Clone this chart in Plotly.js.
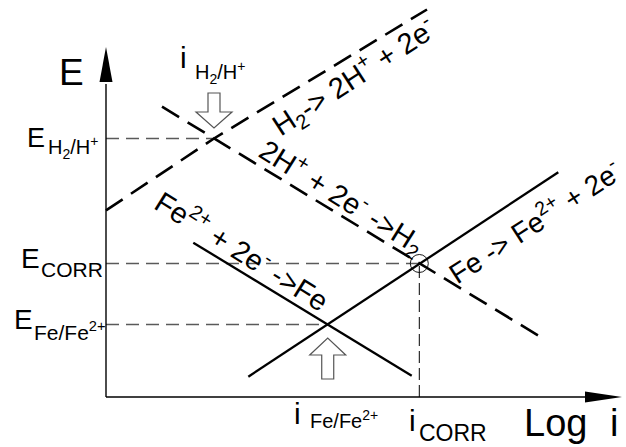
<!DOCTYPE html>
<html>
<head>
<meta charset="utf-8">
<script src="https://cdn.plot.ly/plotly-3.0.1.min.js"></script>
<style>
  html, body { margin: 0; padding: 0; background: #fff; }
  #chart { width: 626px; height: 447px; }
</style>
</head>
<body>
<div id="chart"></div>
<script>
// Evans diagram: Fe corrosion coupled with hydrogen reaction (E vs log i)

// Equilibrium / mixed-potential points: [H2/H+, CORR, Fe/Fe2+]
const pointNames = ['H2/H+', 'CORR', 'Fe/Fe2+'];
const pointLogI  = [2.077, 6.025, 4.264];
const pointE     = [6.511, 3.363, 1.826];

// Hydrogen oxidation branch (H2 -> 2H+ + 2e-)
const h2OxLogI = [0.0, 2.077, 6.173];
const h2OxE    = [4.70, 6.511, 9.761];

// Hydrogen reduction branch (2H+ + 2e- -> H2)
const h2RedLogI = [1.077, 8.398];
const h2RedE    = [7.312, 1.479];

// Iron oxidation branch (Fe -> Fe2+ + 2e-)
const feOxLogI = [2.737, 8.698];
const feOxE    = [0.511, 5.660];

// Iron reduction branch (Fe2+ + 2e- -> Fe)
const feRedLogI = [1.679, 5.879];
const feRedE    = [3.887, 0.537];

// Axis extents (data units)
const axisEndLogI = 9.923;
const axisEndE    = 8.816;

// ---- pixel helpers for the full-frame plot area ----
const W = 626, H = 447;
const ORIGIN_X = 106, ORIGIN_Y = 397, SX = 52, SY = 39.7;
const px2x = p => (p - ORIGIN_X) / SX;
const py2y = p => (ORIGIN_Y - p) / SY;

const FONT = 'Liberation Sans, Arial, sans-serif';

const traces = [];

// reference level guides
const idxH2 = 0, idxCorr = 1, idxFe = 2;
[idxH2, idxCorr, idxFe].forEach(k => {
  traces.push({
    x: [0, pointLogI[k]], y: [pointE[k], pointE[k]],
    mode: 'lines', hoverinfo: 'skip',
    line: { color: '#5a5a5a', width: 1.3, dash: '13px,7px' }
  });
});
traces.push({
  x: [pointLogI[idxCorr], pointLogI[idxCorr]], y: [0, pointE[idxCorr]],
  mode: 'lines', hoverinfo: 'skip',
  line: { color: '#000', width: 1, dash: '12px,5px' }
});

// hydrogen branches (dashed)
traces.push({ x: h2OxLogI, y: h2OxE, mode: 'lines', hoverinfo: 'skip',
  line: { color: '#000', width: 2.6, dash: '20px,10px' } });
traces.push({ x: h2RedLogI, y: h2RedE, mode: 'lines', hoverinfo: 'skip',
  line: { color: '#000', width: 2.6, dash: '20px,10px' } });

// iron branches (solid)
traces.push({ x: feOxLogI, y: feOxE, mode: 'lines', hoverinfo: 'skip',
  line: { color: '#000', width: 2.3 } });
traces.push({ x: feRedLogI, y: feRedE, mode: 'lines', hoverinfo: 'skip',
  line: { color: '#000', width: 2.3 } });

// corrosion point marker
traces.push({ x: [pointLogI[idxCorr]], y: [pointE[idxCorr]], mode: 'markers', hoverinfo: 'skip',
  marker: { symbol: 'circle-open', size: 18, color: '#000', line: { width: 0.9, color: '#000' } } });

// ---- shapes: axes with arrowheads, hollow pointer arrows ----
const shapes = [
  { type: 'line', xref: 'x', yref: 'y', x0: 0, y0: 0, x1: px2x(590), y1: 0,
    line: { color: '#000', width: 1.4 } },
  { type: 'line', xref: 'x', yref: 'y', x0: 0, y0: 0, x1: 0, y1: py2y(84),
    line: { color: '#000', width: 1.4 } },
  { type: 'path', xref: 'x', yref: 'y', xsizemode: 'pixel', ysizemode: 'pixel',
    xanchor: axisEndLogI, yanchor: 0,
    path: 'M 0,0 L -37,5.5 L -37,-5.5 Z', fillcolor: '#000', line: { width: 0 } },
  { type: 'path', xref: 'x', yref: 'y', xsizemode: 'pixel', ysizemode: 'pixel',
    xanchor: 0, yanchor: axisEndE,
    path: 'M 0,0 L -6.5,-35 L 6.5,-35 Z', fillcolor: '#000', line: { width: 0 } },
  // hollow arrow pointing down at the H2/H+ exchange point
  { type: 'path', xref: 'x', yref: 'y', xsizemode: 'pixel', ysizemode: 'pixel',
    xanchor: pointLogI[idxH2], yanchor: pointE[idxH2],
    path: 'M -6,45.5 L 6,45.5 L 6,26.5 L 18,26.5 L 0,10.5 L -18,26.5 L -6,26.5 Z',
    fillcolor: '#fff', line: { color: '#555', width: 1.2 } },
  // hollow arrow pointing up at the Fe/Fe2+ exchange point
  { type: 'path', xref: 'x', yref: 'y', xsizemode: 'pixel', ysizemode: 'pixel',
    xanchor: pointLogI[idxFe], yanchor: pointE[idxFe],
    path: 'M -6,-54.5 L 6,-54.5 L 6,-30.5 L 18,-30.5 L 0,-13.5 L -18,-30.5 L -6,-30.5 Z',
    fillcolor: '#fff', line: { color: '#555', width: 1.2 } }
];

// ---- text ----
function txt(text, x, y, size, opts) {
  return Object.assign({
    text: text, x: x, y: y, xref: 'x', yref: 'y', showarrow: false,
    xanchor: 'center', yanchor: 'middle',
    font: { family: FONT, size: size, color: '#000' }
  }, opts || {});
}

const annotations = [
  // axis titles
  txt('E', px2x(71), py2y(72), 37),
  txt('Log', px2x(522), py2y(423), 38, { xanchor: 'left' }),
  txt('i', px2x(614), py2y(423), 38),

  // potential labels on the left
  txt('E', px2x(36), pointE[idxH2], 27, { yshift: 1 }),
  txt('H<sub>2</sub>/H<sup>+</sup>', px2x(46), pointE[idxH2], 20, { xanchor: 'left', yshift: -9 }),
  txt('E', px2x(30), pointE[idxCorr], 28, { yshift: 5 }),
  txt('CORR', px2x(39), pointE[idxCorr], 21, { xanchor: 'left', yshift: -6 }),
  txt('E', px2x(23.5), pointE[idxFe], 28, { yshift: 5 }),
  txt('Fe/Fe<sup>2+</sup>', px2x(32), pointE[idxFe], 21, { xanchor: 'left', yshift: -6 }),

  // current labels
  txt('i', pointLogI[idxH2], py2y(57), 30, { xshift: -31 }),
  txt('H<sub>2</sub>/H<sup>+</sup>', pointLogI[idxH2], py2y(72), 20, { xanchor: 'left', xshift: -21 }),
  txt('i', pointLogI[idxFe], py2y(413), 30, { xshift: -30 }),
  txt('Fe/Fe<sup>2+</sup>', pointLogI[idxFe], py2y(419), 20, { xanchor: 'left', xshift: -20 }),
  txt('i', pointLogI[idxCorr], py2y(420), 30, { xshift: -7 }),
  txt('CORR', pointLogI[idxCorr], py2y(433), 23, { xanchor: 'left', xshift: -2 }),

  // reaction labels along the branches
  txt('H<sub>2</sub>-> 2H<sup>+</sup> + 2e<sup>-</sup>', px2x(354), py2y(77), 29, { textangle: -33 }),
  txt('2H<sup>+</sup> + 2e<sup>-</sup> ->H<sub>2</sub>', px2x(342), py2y(197), 29, { textangle: 32 }),
  txt('Fe<sup>2+</sup> + 2e<sup>-</sup> ->Fe', px2x(243), py2y(250), 29, { textangle: 32 }),
  txt('Fe -> Fe<sup>2+</sup> + 2e<sup>-</sup>', px2x(534), py2y(221), 28, { textangle: -33 })
];

const layout = {
  width: W, height: H,
  margin: { l: 0, r: 0, t: 0, b: 0, pad: 0 },
  paper_bgcolor: '#fff', plot_bgcolor: '#fff',
  showlegend: false,
  xaxis: { range: [px2x(0), px2x(W)], visible: false, fixedrange: true },
  yaxis: { range: [py2y(H), py2y(0)], visible: false, fixedrange: true },
  shapes: shapes,
  annotations: annotations
};

Plotly.newPlot('chart', traces, layout, { staticPlot: true, displayModeBar: false });
</script>
</body>
</html>
